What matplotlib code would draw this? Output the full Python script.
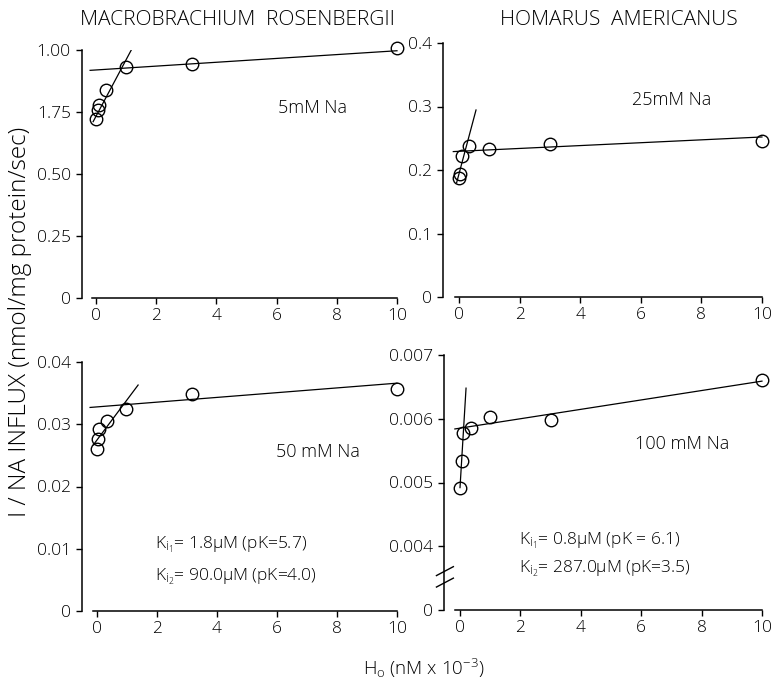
import matplotlib
matplotlib.use("Agg")
import matplotlib.pyplot as plt

plt.rcParams['font.family'] = ['Open Sans', 'DejaVu Sans']
plt.rcParams['font.weight'] = 'light'
plt.rcParams['mathtext.fontset'] = 'custom'
plt.rcParams['mathtext.rm'] = 'Open Sans:light'
plt.rcParams['mathtext.it'] = 'Open Sans:light'
plt.rcParams['mathtext.default'] = 'regular'

# ---------------- data ----------------
# Macrobrachium rosenbergii, 5 mM Na
tl_x = [0, 0.05, 0.1, 0.33, 1.0, 3.2, 10]
tl_y = [0.72, 0.757, 0.778, 0.84, 0.932, 0.945, 1.008]
tl_flat_x = [-0.2, 10]
tl_flat_y = [0.918, 0.997]
tl_steep_x = [-0.1, 1.19]
tl_steep_y = [0.711, 1.005]
tl_yticks = [0, 0.25, 0.5, 0.75, 1.0]
tl_ylabels = ["0", "0.25", "0.50", "1.75", "1.00"]

# Homarus americanus, 25 mM Na
tr_x = [0, 0.03, 0.1, 0.33, 1.0, 3.0, 10]
tr_y = [0.187, 0.194, 0.222, 0.238, 0.233, 0.241, 0.246]
tr_flat_x = [-0.19, 10]
tr_flat_y = [0.229, 0.252]
tr_steep_x = [-0.08, 0.56]
tr_steep_y = [0.180, 0.2945]
tr_yticks = [0, 0.1, 0.2, 0.3, 0.4]
tr_ylabels = ["0", "0.1", "0.2", "0.3", "0.4"]

# Macrobrachium rosenbergii, 50 mM Na
bl_x = [0, 0.04, 0.08, 0.32, 0.97, 3.15, 10]
bl_y = [0.0261, 0.0276, 0.0293, 0.0305, 0.0324, 0.0349, 0.0356]
bl_flat_x = [-0.23, 10]
bl_flat_y = [0.0327, 0.0366]
bl_steep_x = [-0.12, 1.37]
bl_steep_y = [0.0267, 0.0363]
bl_yticks = [0, 0.01, 0.02, 0.03, 0.04]
bl_ylabels = ["0", "0.01", "0.02", "0.03", "0.04"]

# Homarus americanus, 100 mM Na (broken axis: bottom tick "0" placed at 0.003)
br_x = [0, 0.05, 0.1, 0.35, 1.0, 3.0, 10]
br_y = [0.00492, 0.00533, 0.00578, 0.00586, 0.00603, 0.00598, 0.00661]
br_flat_x = [-0.17, 10]
br_flat_y = [0.00584, 0.00659]
br_steep_x = [0, 0.2]
br_steep_y = [0.00492, 0.00648]
br_yticks = [0.003, 0.004, 0.005, 0.006, 0.007]
br_ylabels = ["0", "0.004", "0.005", "0.006", "0.007"]

xticks = [0, 2, 4, 6, 8, 10]
xlabels = ["0", "2", "4", "6", "8", "10"]

# ---------------- figure ----------------
W, H = 773, 685
fig = plt.figure(figsize=(W / 100, H / 100), dpi=100)


def px_axes(left, right, bottom, top):
    return fig.add_axes([left / W, 1 - bottom / H, (right - left) / W, (bottom - top) / H])


def style(ax, xlim, ylim, yticks, ylabels):
    ax.set_xlim(*xlim)
    ax.set_ylim(*ylim)
    for s in ['top', 'right']:
        ax.spines[s].set_visible(False)
    ax.spines['bottom'].set_bounds(-0.15, 10)
    ax.spines['left'].set_bounds(ylim[0], ylim[1])
    for s in ['left', 'bottom']:
        ax.spines[s].set_linewidth(1.1)
    ax.set_xticks(xticks)
    ax.set_xticklabels(xlabels)
    ax.set_yticks(yticks)
    ax.set_yticklabels(ylabels)
    ax.tick_params(axis='both', direction='out', length=4, width=1.0,
                   labelsize=12.5, colors='black')
    ax.tick_params(axis='x', pad=3)
    ax.tick_params(axis='y', pad=4)


def draw(ax, x, y, fx, fy, sx, sy):
    ax.plot(fx, fy, color='black', lw=0.9)
    ax.plot(sx, sy, color='black', lw=0.9)
    ax.plot(x, y, linestyle='none', marker='o', ms=9, mfc='none',
            mec='black', mew=1.0, zorder=3, clip_on=False)


# top-left
ax1 = px_axes(82, 406, 298, 50)
style(ax1, (-0.47, 10.3), (0, 1.0), tl_yticks, tl_ylabels)
draw(ax1, tl_x, tl_y, tl_flat_x, tl_flat_y, tl_steep_x, tl_steep_y)
ax1.text(6.05, 0.766, "5mM Na", fontsize=13, ha='left', va='center')

# top-right
ax2 = px_axes(443, 768, 297, 43)
style(ax2, (-0.53, 10.2), (0, 0.4), tr_yticks, tr_ylabels)
draw(ax2, tr_x, tr_y, tr_flat_x, tr_flat_y, tr_steep_x, tr_steep_y)
ax2.text(5.7, 0.31, "25mM Na", fontsize=13, ha='left', va='center')

# bottom-left
ax3 = px_axes(82, 406, 611, 362)
style(ax3, (-0.5, 10.3), (0, 0.04), bl_yticks, bl_ylabels)
draw(ax3, bl_x, bl_y, bl_flat_x, bl_flat_y, bl_steep_x, bl_steep_y)
ax3.text(5.98, 0.0255, "50 mM Na", fontsize=13, ha='left', va='center')
ax3.text(1.93, 0.0106, r"K$_{i_1}$= 1.8$\mu$M (pK=5.7)", fontsize=12.5, ha='left', va='center')
ax3.text(1.93, 0.0055, r"K$_{i_2}$= 90.0$\mu$M (pK=4.0)", fontsize=12.5, ha='left', va='center')

# bottom-right
ax4 = px_axes(444, 768, 610, 355)
style(ax4, (-0.53, 10.2), (0.003, 0.007), br_yticks, br_ylabels)
draw(ax4, br_x, br_y, br_flat_x, br_flat_y, br_steep_x, br_steep_y)
ax4.text(5.78, 0.0056, "100 mM Na", fontsize=13, ha='left', va='center')
ax4.text(1.95, 0.00408, r"K$_{i_1}$= 0.8$\mu$M (pK = 6.1)", fontsize=12.5, ha='left', va='center')
ax4.text(1.95, 0.00365, r"K$_{i_2}$= 287.0$\mu$M (pK=3.5)", fontsize=12.5, ha='left', va='center')
# axis break marks
for yb in (0.00361, 0.00343):
    ax4.plot([-0.78, -0.22], [yb - 0.00007, yb + 0.00007], color='black', lw=1.0,
             clip_on=False)

# titles and axis labels
fig.text(237 / W, 1 - 20 / H, "MACROBRACHIUM  ROSENBERGII", fontsize=15,
         ha='center', va='center')
fig.text(619 / W, 1 - 20 / H, "HOMARUS  AMERICANUS", fontsize=15,
         ha='center', va='center')
fig.text(20 / W, 1 - 322 / H, "I / NA INFLUX (nmol/mg protein/sec)", fontsize=17.5,
         rotation=90, ha='center', va='center')
fig.text(424 / W, 1 - 668 / H, r"H$_o$ (nM x 10$^{-3}$)", fontsize=13.5,
         ha='center', va='center')

fig.savefig("out.png", dpi=100, facecolor='white')
